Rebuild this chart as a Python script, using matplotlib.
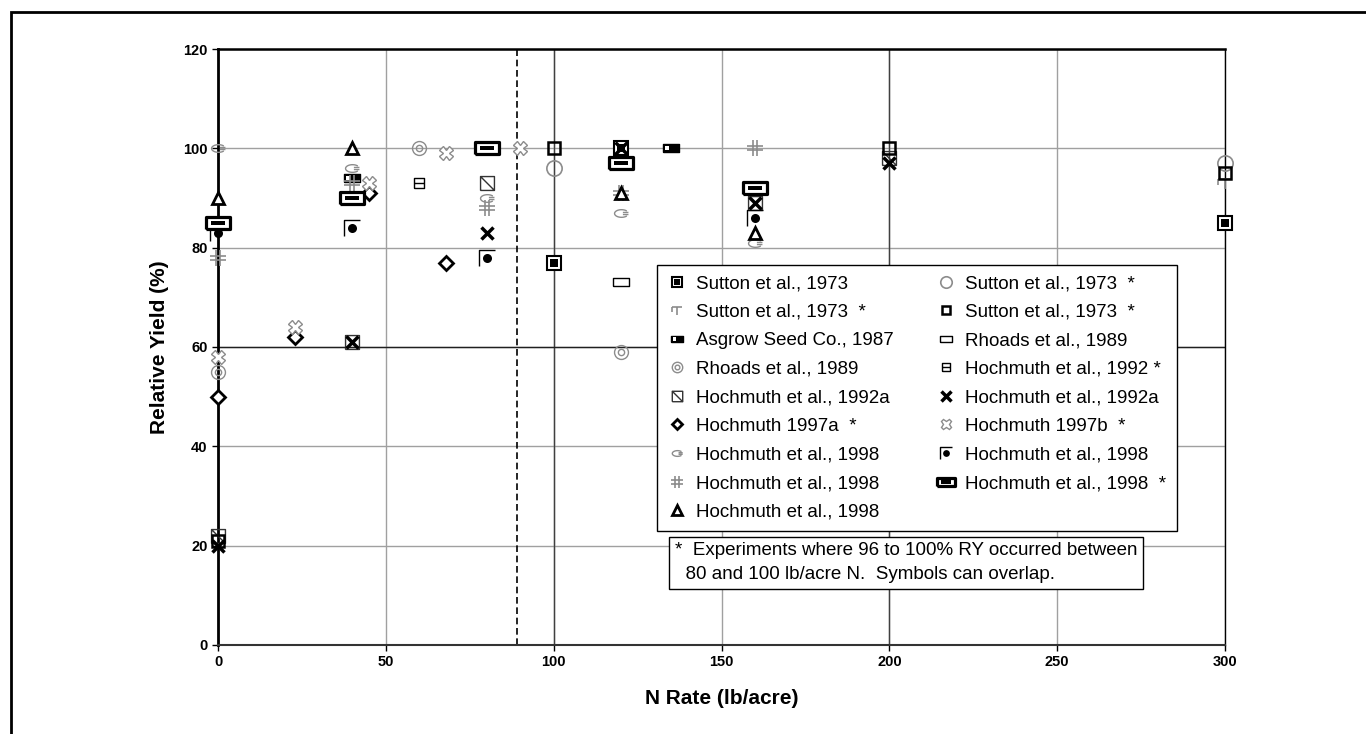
import matplotlib
matplotlib.use('Agg')
import matplotlib.pyplot as plt
from matplotlib.path import Path
from matplotlib.patches import Rectangle
import numpy as np

plt.rcParams['font.family'] = ['Liberation Sans', 'DejaVu Sans']

# N rate (lb/acre) and relative yield (%), one pair per series
sutton_x = [100, 120, 300]
sutton_y = [77, 100, 85]
sutton_t_x = [300]
sutton_t_y = [93]
asgrow_x = [40, 135]
asgrow_y = [94, 100]
rhoads_c_x = [0, 60, 120]
rhoads_c_y = [55, 100, 59]
h92a_sq_x = [0, 40, 80, 160, 200]
h92a_sq_y = [22, 61, 93, 89, 98]
h97a_x = [0, 23, 45, 68]
h97a_y = [50, 62, 91, 77]
h98_arc_x = [0, 40, 80, 120, 160]
h98_arc_y = [100, 96, 90, 87, 81]
h98_hash_x = [0, 40, 80, 120, 160]
h98_hash_y = [78, 93, 88, 91, 100]
h98_tri_x = [0, 40, 120, 160]
h98_tri_y = [90, 100, 91, 83]
sutton_o_x = [100, 300]
sutton_o_y = [96, 97]
sutton_sq_x = [0, 100, 200, 300]
sutton_sq_y = [21, 100, 100, 95]
rhoads_r_x = [120]
rhoads_r_y = [73]
h92_x = [60]
h92_y = [93]
h92a_x_x = [0, 40, 80, 120, 160, 200]
h92a_x_y = [20, 61, 83, 100, 89, 97]
h97b_x = [0, 23, 45, 68, 90]
h97b_y = [58, 64, 93, 99, 100]
h98_dot_x = [0, 40, 80, 160]
h98_dot_y = [83, 84, 78, 86]
h98_bar_x = [0, 40, 80, 120, 160]
h98_bar_y = [85, 90, 100, 97, 92]

labels = ['Sutton et al., 1973', 'Sutton et al., 1973  *', 'Asgrow Seed Co., 1987',
          'Rhoads et al., 1989', 'Hochmuth et al., 1992a', 'Hochmuth 1997a  *',
          'Hochmuth et al., 1998', 'Hochmuth et al., 1998', 'Hochmuth et al., 1998',
          'Sutton et al., 1973  *', 'Sutton et al., 1973  *', 'Rhoads et al., 1989',
          'Hochmuth et al., 1992 *', 'Hochmuth et al., 1992a', 'Hochmuth 1997b  *',
          'Hochmuth et al., 1998', 'Hochmuth et al., 1998  *']
note = ('*  Experiments where 96 to 100% RY occurred between\n'
        '  80 and 100 lb/acre N.  Symbols can overlap.')


def lines(*segs):
    verts, codes = [], []
    for s in segs:
        verts += s
        codes += [Path.MOVETO] + [Path.LINETO] * (len(s) - 1)
    return Path(verts, codes)


def box(x0, y0, x1, y1):
    return [(x0, y0), (x1, y0), (x1, y1), (x0, y1), (x0, y0)]


# custom symbols
m_tee = lines([(-1, 0.6), (1, 0.6)], [(0, 0.6), (0, -0.9)], [(-1, 0.6), (-1, -0.3)])
m_wide = lines(box(-1, -0.5, 1, 0.5))
m_left = lines([(1, 0)], box(-0.75, -0.3, -0.2, 0.3))
m_sqdiag = lines(box(-1, -1, 1, 1), [(-1, 1), (1, -1)])
m_sqbar = lines(box(-1, -1, 1, 1), [(-1, 0), (1, 0)])
t = np.linspace(np.radians(40), np.radians(320), 30)
m_arc = lines(list(zip(np.cos(t), 0.55 * np.sin(t))), [(0.2, 0.15), (1, 0.15)], [(0.2, -0.15), (1, -0.15)])
m_hash = lines([(-0.3, -1), (-0.3, 1)], [(0.3, -1), (0.3, 1)], [(-1, 0.3), (1, 0.3)], [(-1, -0.3), (1, -0.3)])
m_bracket = lines([(-1, -1), (-1, 1), (1, 1)])
m_bar = lines([(1, 0)], [(-1, 0)], box(-0.62, -0.2, 0.62, 0.2))

fig = plt.figure(figsize=(13.66, 7.34), dpi=100)
ax = fig.add_axes([0.1596, 0.1213, 0.7372, 0.8119])

gray = '#8c8c8c'


def pt(x, y, **kw):
    return ax.plot(x, y, ls='none', clip_on=False, zorder=3, **kw)[0]


handles = [
    (pt(sutton_x, sutton_y, marker='s', ms=10, mfc='white', mec='black', mew=1.5),
     pt(sutton_x, sutton_y, marker='s', ms=5.5, mfc='black', mec='black', mew=0)),
    pt(sutton_t_x, sutton_t_y, marker=m_tee, ms=10, mfc='none', mec=gray, mew=1.2),
    (pt(asgrow_x, asgrow_y, marker=m_wide, ms=11, mfc='black', mec='black', mew=1),
     pt(asgrow_x, asgrow_y, marker=m_left, ms=11, mfc='white', mec='white', mew=0)),
    (pt(rhoads_c_x, rhoads_c_y, marker='o', ms=10, mfc='none', mec=gray, mew=1),
     pt(rhoads_c_x, rhoads_c_y, marker='o', ms=4.5, mfc='none', mec=gray, mew=1)),
    pt(h92a_sq_x, h92a_sq_y, marker=m_sqdiag, ms=10, mfc='none', mec='#333333', mew=1),
    pt(h97a_x, h97a_y, marker='D', ms=7, mfc='white', mec='black', mew=2),
    pt(h98_arc_x, h98_arc_y, marker=m_arc, ms=10, mfc='none', mec=gray, mew=1),
    pt(h98_hash_x, h98_hash_y, marker=m_hash, ms=11, mfc='none', mec=gray, mew=1.2),
    pt(h98_tri_x, h98_tri_y, marker='^', ms=9, mfc='white', mec='black', mew=2),
    pt(sutton_o_x, sutton_o_y, marker='o', ms=11, mfc='none', mec=gray, mew=1.2),
    pt(sutton_sq_x, sutton_sq_y, marker='s', ms=8, mfc='none', mec='black', mew=1.8),
    pt(rhoads_r_x, rhoads_r_y, marker=m_wide, ms=12, mfc='none', mec='black', mew=1),
    pt(h92_x, h92_y, marker=m_sqbar, ms=7, mfc='none', mec='black', mew=1),
    pt(h92a_x_x, h92a_x_y, marker='x', ms=9, mec='black', mew=2.5),
    pt(h97b_x, h97b_y, marker='X', ms=10, mfc='white', mec=gray, mew=1),
    (pt(h98_dot_x, h98_dot_y, marker=m_bracket, ms=11, mfc='none', mec='black', mew=1),
     pt(h98_dot_x, h98_dot_y, marker='o', ms=6.5, mfc='black', mec='black', mew=0)),
    (pt(h98_bar_x, h98_bar_y, marker=m_wide, ms=17, mfc='white', mec='black', mew=2.3),
     pt(h98_bar_x, h98_bar_y, marker=m_bar, ms=17, mfc='black', mec='black', mew=0)),
]

ax.set_xlim(0, 300)
ax.set_ylim(0, 120)
ax.set_xticks(np.arange(0, 301, 50))
ax.set_yticks(np.arange(0, 121, 20))
ax.grid(True, color='#a0a0a0', lw=1)
ax.set_axisbelow(True)
for v in (100, 200):
    ax.axvline(v, color='#404040', lw=1, zorder=1)
ax.axhline(60, color='#202020', lw=1, zorder=1)
ax.axvline(89, color='black', lw=1.2, ls=(0, (4, 2.2)), zorder=2)

ax.spines['left'].set_linewidth(2)
ax.spines['top'].set_linewidth(1.8)
ax.spines['bottom'].set_linewidth(1.5)
ax.spines['bottom'].set_color('#333333')
ax.spines['right'].set_linewidth(1)

ax.tick_params(labelsize=10.5, width=1, length=4, direction='out')
for lab in ax.get_xticklabels() + ax.get_yticklabels():
    lab.set_fontweight('bold')
ax.set_xlabel('N Rate (lb/acre)', fontsize=15, fontweight='bold', labelpad=14)
ax.set_ylabel('Relative Yield (%)', fontsize=15, fontweight='bold', labelpad=10)

leg = ax.legend(handles, labels, ncol=2, loc='upper left', bbox_to_anchor=(0.436, 0.638),
                borderaxespad=0, fontsize=13.5, frameon=True, fancybox=False,
                edgecolor='black', framealpha=1, markerscale=0.75, handlelength=1.0,
                handletextpad=0.55, columnspacing=2.25, labelspacing=0.61, borderpad=0.55)
leg.get_frame().set_linewidth(1.0)
leg.set_zorder(5)

ax.text(0.4538, 0.138, note, transform=ax.transAxes, fontsize=13.5, va='center', ha='left',
        linespacing=1.5, zorder=5,
        bbox=dict(boxstyle='square,pad=0.3', fc='white', ec='black', lw=1))

fig.add_artist(Rectangle((0.0077, -0.05), 1.1, 1.0337, transform=fig.transFigure,
                         fill=False, lw=2, ec='black'))

fig.savefig('out.png', dpi=100)
